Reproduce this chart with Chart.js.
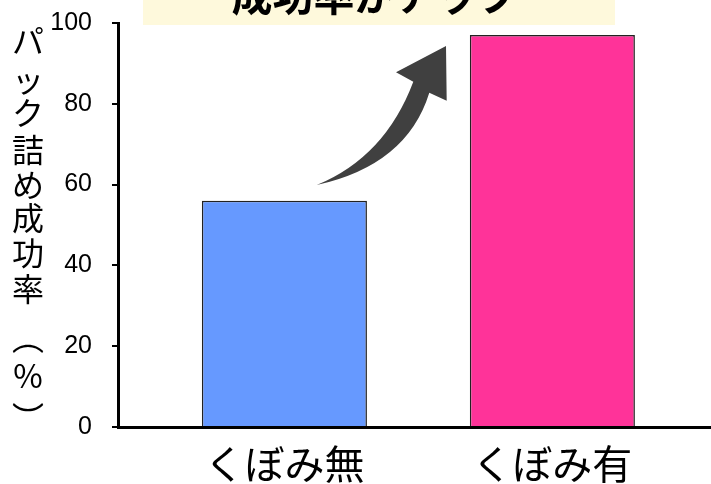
<!DOCTYPE html>
<html>
<head>
<meta charset="utf-8">
<script src="https://cdn.jsdelivr.net/npm/chart.js@4.4.1/dist/chart.umd.min.js"></script>
<style>
  html, body { margin: 0; padding: 0; background: #fff; }
</style>
</head>
<body>
<canvas id="myChart" width="711" height="484"></canvas>
<script>
const categories = ['くぼみ無', 'くぼみ有'];
const successRate = [56, 97];
const yTicks = [0, 20, 40, 60, 80, 100];
const yTitle = 'パック詰め成功率（%）';
const banner = '成功率がアップ';

const jpFont = '"Noto Sans CJK JP", "Noto Sans", sans-serif';
const numFont = '"Liberation Sans", Arial, sans-serif';

// vertical forms for the stacked axis title
const verticalForm = { '（': '︵', '）': '︶' };
const titleY = [41, 80, 113, 150, 185, 218, 253, 289, 338, 376, 418];

const decorations = {
  id: 'decorations',
  afterDraw(chart) {
    const c = chart.ctx;
    c.save();

    // banner box at the top
    c.fillStyle = '#fef9dc';
    c.fillRect(143, 0, 472, 25);
    c.fillStyle = '#000';
    c.font = 'bold 41px ' + jpFont;
    c.textAlign = 'center';
    c.textBaseline = 'middle';
    c.fillText(banner, 375, -5);

    // y title, one character per line
    c.font = '32px ' + jpFont;
    Array.from(yTitle).forEach((ch, i) => {
      c.fillText(verticalForm[ch] || ch, 28, titleY[i]);
    });

    // curved arrow
    c.fillStyle = '#404040';
    c.beginPath();
    c.moveTo(316.7, 185);
    c.quadraticCurveTo(385, 157, 413.3, 81.7);
    c.lineTo(396, 72.3);
    c.lineTo(446, 46);
    c.lineTo(446.7, 100.7);
    c.lineTo(429.3, 92.7);
    c.quadraticCurveTo(407, 165, 316.7, 185);
    c.closePath();
    c.fill();

    c.restore();
  }
};

const chart = new Chart(document.getElementById('myChart'), {
  type: 'bar',
  data: {
    datasets: [{
      data: categories.map((c, i) => ({ x: i, y: successRate[i] })),
      backgroundColor: ['#6699ff', '#ff3399'],
      borderColor: '#222',
      borderWidth: 1.5,
      barPercentage: 0.616,
      categoryPercentage: 1
    }]
  },
  options: {
    responsive: false,
    animation: false,
    devicePixelRatio: 1,
    layout: { padding: { top: 23, left: 0, right: 0, bottom: 0 } },
    plugins: {
      legend: { display: false },
      tooltip: { enabled: false },
      title: { display: false }
    },
    scales: {
      x: {
        type: 'linear',
        offset: false,
        min: -0.621,
        max: 1.592,
        afterBuildTicks: (scale) => {
          scale.ticks = categories.map((c, i) => ({ value: i }));
        },
        afterFit: (scale) => { scale.height = 57; },
        grid: { display: false, drawTicks: false },
        border: { display: true, color: '#000', width: 3 },
        ticks: {
          color: '#000',
          font: { family: jpFont, size: 40 },
          padding: 13,
          maxRotation: 0,
          callback: (v) => categories[v]
        }
      },
      y: {
        min: 0,
        max: 100,
        afterBuildTicks: (scale) => {
          scale.ticks = yTicks.map(v => ({ value: v }));
        },
        afterFit: (scale) => {
          scale.width = 118;
          scale.paddingTop = 0;
          scale.paddingBottom = 0;
        },
        grid: {
          drawOnChartArea: false,
          drawTicks: true,
          tickLength: 6,
          color: '#000',
          lineWidth: 2
        },
        border: { display: true, color: '#000', width: 3 },
        ticks: {
          color: '#000',
          font: { family: numFont, size: 25 },
          padding: 20
        }
      }
    }
  },
  plugins: [decorations]
});
</script>
</body>
</html>
